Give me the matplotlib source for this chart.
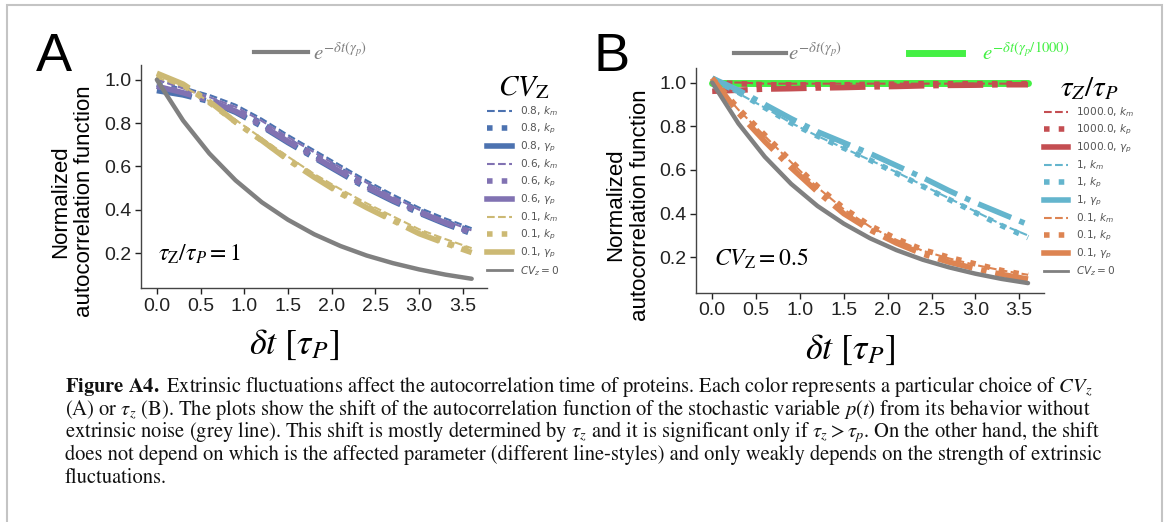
import matplotlib
matplotlib.use('Agg')
import matplotlib.pyplot as plt
from matplotlib.lines import Line2D
from matplotlib.font_manager import FontProperties
from matplotlib.patches import Rectangle

plt.rcParams['mathtext.fontset'] = 'stix'
plt.rcParams['font.family'] = ['Liberation Sans', 'DejaVu Sans']

W, H = 1167, 522

# ---------------- data ----------------
t = [0.0, 0.3, 0.6, 0.9, 1.2, 1.5, 1.8, 2.1, 2.4, 2.7, 3.0, 3.3, 3.6]
grey_ref = [1.0, 0.812, 0.660, 0.536, 0.435, 0.354, 0.287, 0.233, 0.189, 0.154, 0.125, 0.101, 0.082]
green_ref = [1.0, 1.0, 1.0, 1.0, 1.0, 1.0, 1.0, 1.0, 1.0, 1.0, 1.0, 1.0, 1.0]

# Panel A: tau_Z / tau_P = 1, varying CV_Z
a_labels = ['0.8', '0.6', '0.1']
a_08_km = [1.00, 0.965, 0.93, 0.885, 0.82, 0.745, 0.675, 0.605, 0.535, 0.47, 0.41, 0.36, 0.315]
a_08_kp = [0.98, 0.95, 0.91, 0.86, 0.80, 0.72, 0.655, 0.585, 0.515, 0.455, 0.395, 0.345, 0.30]
a_08_gp = [0.95, 0.93, 0.90, 0.85, 0.785, 0.71, 0.64, 0.57, 0.50, 0.44, 0.385, 0.335, 0.29]
a_06_km = [1.00, 0.96, 0.92, 0.875, 0.81, 0.735, 0.665, 0.595, 0.525, 0.46, 0.40, 0.35, 0.305]
a_06_kp = [0.97, 0.945, 0.91, 0.86, 0.795, 0.72, 0.65, 0.58, 0.51, 0.45, 0.39, 0.34, 0.295]
a_06_gp = [0.97, 0.94, 0.905, 0.855, 0.79, 0.715, 0.645, 0.575, 0.505, 0.445, 0.39, 0.34, 0.295]
a_01_km = [1.01, 0.97, 0.90, 0.815, 0.73, 0.645, 0.565, 0.495, 0.43, 0.37, 0.31, 0.265, 0.223]
a_01_kp = [1.02, 0.975, 0.895, 0.805, 0.72, 0.635, 0.555, 0.48, 0.415, 0.355, 0.295, 0.25, 0.21]
a_01_gp = [1.03, 0.98, 0.90, 0.805, 0.72, 0.63, 0.55, 0.475, 0.41, 0.35, 0.29, 0.245, 0.203]

# Panel B: CV_Z = 0.5, varying tau_Z / tau_P
b_labels = ['1000.0', '1', '0.1']
b_1000_km = [1.00, 1.00, 0.995, 0.995, 0.995, 0.995, 0.995, 0.995, 0.995, 0.995, 0.995, 0.995, 0.995]
b_1000_kp = [1.00, 0.995, 0.99, 0.99, 0.99, 0.99, 0.992, 0.993, 0.995, 0.995, 0.995, 0.995, 0.995]
b_1000_gp = [0.96, 0.965, 0.97, 0.972, 0.975, 0.977, 0.98, 0.982, 0.985, 0.987, 0.988, 0.99, 0.99]
b_1_km = [1.00, 0.95, 0.885, 0.815, 0.755, 0.70, 0.645, 0.59, 0.53, 0.47, 0.41, 0.35, 0.30]
b_1_kp = [1.02, 0.955, 0.885, 0.815, 0.755, 0.70, 0.645, 0.585, 0.525, 0.465, 0.405, 0.345, 0.29]
b_1_gp = [1.02, 0.965, 0.90, 0.835, 0.775, 0.725, 0.675, 0.62, 0.565, 0.505, 0.45, 0.40, 0.35]
b_01_km = [1.01, 0.875, 0.755, 0.635, 0.52, 0.42, 0.34, 0.28, 0.23, 0.195, 0.165, 0.14, 0.12]
b_01_kp = [1.02, 0.88, 0.76, 0.64, 0.525, 0.425, 0.345, 0.285, 0.235, 0.20, 0.17, 0.14, 0.118]
b_01_gp = [1.02, 0.86, 0.73, 0.61, 0.50, 0.40, 0.325, 0.265, 0.215, 0.178, 0.148, 0.122, 0.10]

xticks = [0.0, 0.5, 1.0, 1.5, 2.0, 2.5, 3.0, 3.5]
yticks = [0.2, 0.4, 0.6, 0.8, 1.0]

caption_lines = [
    r"$\mathbf{Figure\ A4.}$ Extrinsic fluctuations affect the autocorrelation time of proteins. Each color represents a particular choice of $CV_z$",
    r"(A) or $\tau_z$ (B). The plots show the shift of the autocorrelation function of the stochastic variable $p(t)$ from its behavior without",
    r"extrinsic noise (grey line). This shift is mostly determined by $\tau_z$ and it is significant only if $\tau_z > \tau_p$. On the other hand, the shift",
    r"does not depend on which is the affected parameter (different line-styles) and only weakly depends on the strength of extrinsic",
    r"fluctuations.",
]

# ---------------- styles ----------------
GREY = '#808080'
GREEN = '#44f044'
a_colors = ['#4c72b0', '#8172b2', '#ccb974']
b_colors = ['#c44e52', '#64b5cd', '#dd8452']
styles = {'km': dict(ls='--', lw=1.5), 'kp': dict(ls=':', lw=4.0), 'gp': dict(ls='-.', lw=4.0)}
leg_styles = {'km': dict(ls='--', lw=1.5), 'kp': dict(ls=':', lw=4.0), 'gp': dict(ls='-', lw=4.0)}
sub = {'km': r'$k_m$', 'kp': r'$k_p$', 'gp': r'$\gamma_p$'}

fig = plt.figure(figsize=(W / 100, H / 100), dpi=100)
fig.patch.set_facecolor('white')


def px_axes(l, r, top, bot):
    return fig.add_axes([l / W, 1 - bot / H, (r - l) / W, (bot - top) / H])


axA = px_axes(141.1, 487.4, 65, 288.3)
axB = px_axes(696.4, 1043.8, 67.7, 292.7)

leg_font = FontProperties(family='DejaVu Sans', size=7.6, math_fontfamily='dejavusans')

panels = [
    (axA, a_labels, a_colors,
     [[a_08_km, a_08_kp, a_08_gp], [a_06_km, a_06_kp, a_06_gp], [a_01_km, a_01_kp, a_01_gp]],
     r'$CV_{\mathrm{Z}}$', r'$\tau_{\mathrm{Z}}/\tau_P = 1$', (0.974, 1.004)),
    (axB, b_labels, b_colors,
     [[b_1000_km, b_1000_kp, b_1000_gp], [b_1_km, b_1_kp, b_1_gp], [b_01_km, b_01_kp, b_01_gp]],
     r'$\tau_Z/\tau_P$', r'$CV_{\mathrm{Z}} = 0.5$', (0.974, 1.012)),
]

for idx, (ax, labels, colors, series, title, annot, anchor) in enumerate(panels):
    if idx == 1:
        ax.plot(t, green_ref, color=GREEN, lw=5, solid_capstyle='round', zorder=1)
    handles = []
    for lab, col, trio in zip(labels, colors, series):
        for key, ys in zip(['km', 'kp', 'gp'], trio):
            ax.plot(t, ys, color=col, zorder=2, **styles[key])
            handles.append(Line2D([], [], color=col, **leg_styles[key]))
    ax.plot(t, grey_ref, color=GREY, lw=3.2, solid_capstyle='round', zorder=3)
    handles.append(Line2D([], [], color=GREY, lw=2))
    leg_labels = [f'{lab}, {sub[k]}' for lab in labels for k in ['km', 'kp', 'gp']]
    leg_labels.append(r'$CV_z = 0$')

    ax.set_xlim(-0.18, 3.78)
    ax.set_ylim(0.038, 1.068)
    ax.set_xticks(xticks)
    ax.set_yticks(yticks)
    ax.set_xticklabels([f'{v:.1f}' for v in xticks])
    ax.set_yticklabels([f'{v:.1f}' for v in yticks])
    ax.tick_params(labelsize=14, colors='#222222', length=4, width=1.0, pad=3)
    for s in ['top', 'right']:
        ax.spines[s].set_visible(False)
    for s in ['left', 'bottom']:
        ax.spines[s].set_color('#444444')
        ax.spines[s].set_linewidth(1.0)

    ax.set_xlabel(r'$\delta t\ [\tau_P]$', fontsize=26)
    ax.xaxis.set_label_coords(0.443, -0.175)
    ax.set_ylabel('Normalized\nautocorrelation function', fontsize=16, linespacing=1.2)
    ax.yaxis.label.set_va('center')
    ax.yaxis.set_label_coords(-0.197, 0.39)

    ax.text(0.05, 0.15, annot, transform=ax.transAxes, fontsize=17, ha='left', va='center')

    leg = ax.legend(handles, leg_labels, loc='upper left', bbox_to_anchor=anchor,
                    frameon=False, prop=leg_font, handlelength=2.3, handletextpad=0.8,
                    labelspacing=0.33, borderpad=0.85, borderaxespad=0,
                    title=title, title_fontproperties=FontProperties(size=21))
    for txt in leg.get_texts():
        txt.set_color('#555555')
    ax.add_artist(leg)

# top legends
lA = axA.legend([Line2D([], [], color=GREY, lw=3)], [r'$e^{-\delta t(\gamma_p)}$'], loc='center',
                bbox_to_anchor=(0.49, 1.055), frameon=False, fontsize=15, handlelength=2.6,
                handletextpad=0.25, borderpad=0, borderaxespad=0, labelcolor='linecolor')
lB1 = axB.legend([Line2D([], [], color=GREY, lw=3)], [r'$e^{-\delta t(\gamma_p)}$'], loc='center left',
                 bbox_to_anchor=(0.108, 1.065), frameon=False, fontsize=15, handlelength=2.5,
                 handletextpad=0.1, borderpad=0, borderaxespad=0, labelcolor='linecolor')
axB.add_artist(lB1)
lB2 = axB.legend([Line2D([], [], color=GREEN, lw=5)], [r'$e^{-\delta t(\gamma_p/1000)}$'], loc='center left',
                 bbox_to_anchor=(0.612, 1.065), frameon=False, fontsize=15, handlelength=2.55,
                 handletextpad=0.95, borderpad=0, borderaxespad=0, labelcolor='linecolor')

# panel letters
fig.text(36 / W, 1 - 71 / H, 'A', fontsize=39, va='baseline', ha='left')
fig.text(594 / W, 1 - 71 / H, 'B', fontsize=39, va='baseline', ha='left')

# caption
cap_texts = []
y0, dy = 392, 22.7
for i, line in enumerate(caption_lines):
    cap_texts.append(fig.text(65 / W, 1 - (y0 + i * dy) / H, line, fontsize=13,
                              family='STIXGeneral', va='baseline', ha='left', color='#111111'))
fig.canvas.draw()
r = fig.canvas.get_renderer()
maxw = max(tx.get_window_extent(r).width for tx in cap_texts[:4])
scale = 1040 / maxw
for tx in cap_texts:
    tx.set_fontsize(13 * scale)

# frame
fig.add_artist(Rectangle((7 / W, -0.1), (1162 - 7) / W, 1.1 - 5 / H, transform=fig.transFigure,
                         fill=False, edgecolor='#c4c4c4', lw=1.5))

fig.savefig('out.png', dpi=100, facecolor='white')
